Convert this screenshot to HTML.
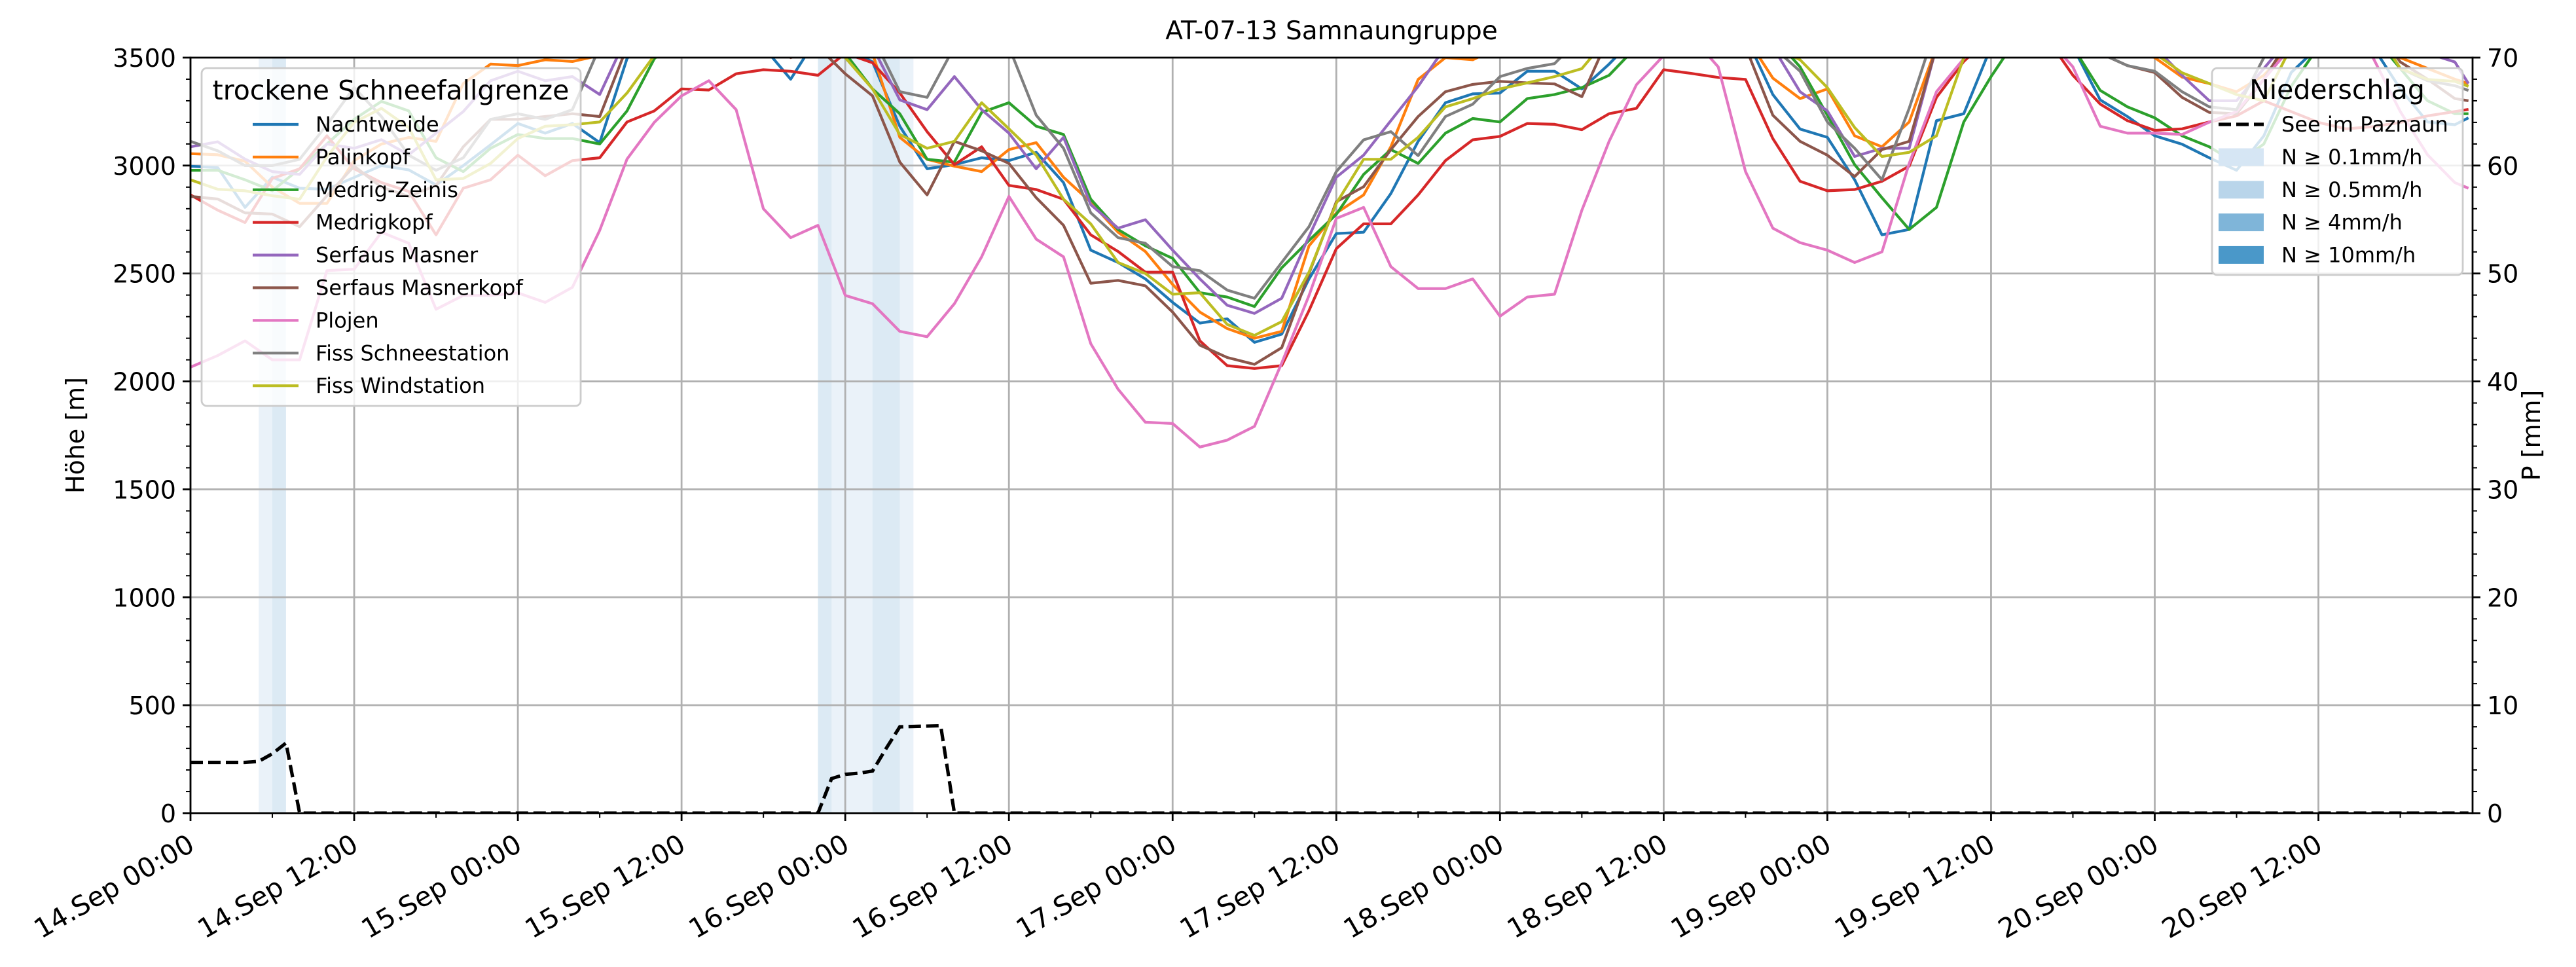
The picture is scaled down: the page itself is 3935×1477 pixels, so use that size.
<!DOCTYPE html>
<html><head><meta charset="utf-8"><style>
html,body{margin:0;padding:0;background:#fff;}
svg{display:block;font-family:"DejaVu Sans","Liberation Sans",sans-serif;}
</style></head><body>
<svg id="chart" xmlns="http://www.w3.org/2000/svg" width="3935" height="1477" viewBox="0 0 3935 1477">
<rect x="0" y="0" width="3935" height="1477" fill="#fff"/>
<defs><clipPath id="plotclip"><rect x="291" y="88" width="3486" height="1154"/></clipPath></defs>
<g id="bands" clip-path="url(#plotclip)"></g>
<g id="grid"></g>
<g id="lines" clip-path="url(#plotclip)"></g>
<g id="axes"></g>
<g id="legendL"></g>
<g id="lake" clip-path="url(#plotclip)"></g>
<g id="legendR"></g>
<text x="2034" y="60" text-anchor="middle" font-size="39">AT-07-13 Samnaungruppe</text>
<text transform="translate(128,665) rotate(-90)" text-anchor="middle" font-size="38">Höhe [m]</text>
<text transform="translate(3880,665) rotate(-90)" text-anchor="middle" font-size="38">P [mm]</text>
</svg>
<script>
const hours = [0,2,4,6,8,10,12,14,16,18,20,22,24,26,28,30,32,34,36,38,40,42,44,46,48,50,52,54,56,58,60,62,64,66,68,70,72,74,76,78,80,82,84,86,88,90,92,94,96,98,100,102,104,106,108,110,112,114,116,118,120,122,124,126,128,130,132,134,136,138,140,142,144,146,148,150,152,154,156,158,160,162,164,166,167];
const seriesNames = ["Nachtweide","Palinkopf","Medrig-Zeinis","Medrigkopf","Serfaus Masner","Serfaus Masnerkopf","Plojen","Fiss Schneestation","Fiss Windstation"];
const nachtweide = [2997,2990,2806,2946,2895,2890,2945,3000,2980,2910, 3000,3096,3195,3150,3195,3106,3495,3650,3650,3600, 3600,3550,3400,3600,3550,3480,3182,2985,3004,3036, 3023,3061,2921,2608,2551,2475,2366,2270,2290,2181, 2219,2475,2685,2691,2870,3112,3291,3332,3336,3437, 3437,3355,3470,3600,3650,3650,3650,3600,3329,3169, 3131,2934,2679,2704,3208,3240,3550,3650,3650,3550, 3304,3227,3138,3099,3036,2978,3138,3431,3550,3600, 3550,3355,3202,3189,3221];
const palinkopf = [3055,3050,3020,2900,2825,2825,3023,3100,3130,3112, 3380,3470,3463,3490,3482,3510,3600,3650,3650,3650, 3650,3600,3600,3600,3600,3520,3131,3029,2997,2972, 3074,3106,2946,2830,2691,2602,2449,2321,2245,2200, 2232,2628,2780,2864,3087,3399,3500,3490,3550,3600, 3650,3650,3650,3650,3650,3650,3650,3600,3405,3310, 3355,3138,3087,3202,3550,3650,3650,3650,3650,3650, 3600,3550,3500,3410,3380,3342,3418,3550,3650,3650, 3600,3500,3450,3400,3380];
const medrigZeinis = [2978,2978,2934,2883,2985,3100,3214,3297,3253,3036, 2972,3080,3144,3125,3125,3100,3253,3495,3600,3650, 3650,3600,3550,3550,3520,3355,3240,3029,3016,3246, 3291,3182,3144,2844,2704,2628,2570,2411,2391,2347, 2526,2653,2774,2959,3074,3010,3150,3218,3202,3310, 3329,3361,3418,3550,3650,3650,3650,3650,3600,3457, 3233,3004,2851,2704,2806,3202,3412,3600,3650,3550, 3348,3272,3221,3138,3087,3010,3100,3367,3550,3600, 3600,3450,3300,3240,3240];
const medrigkopf = [2864,2793,2736,2940,2985,3138,2985,2921,2880,2679, 2895,2934,3048,2953,3023,3036,3202,3253,3355,3350, 3425,3444,3437,3418,3520,3476,3336,3157,3004,3087, 2908,2889,2844,2679,2602,2506,2506,2188,2073,2060, 2073,2328,2615,2730,2730,2864,3023,3119,3135,3195, 3191,3166,3240,3265,3444,3427,3408,3399,3125,2927, 2883,2889,2927,2997,3316,3482,3600,3650,3600,3418, 3285,3208,3163,3170,3202,3230,3300,3250,3200,3170, 3180,3200,3230,3250,3260];
const serfausMasner = [3087,3110,3030,2972,2959,3100,3080,3120,3050,3150, 3250,3393,3437,3393,3412,3329,3600,3650,3650,3650, 3650,3650,3600,3600,3600,3550,3304,3259,3412,3259, 3150,2985,3131,2819,2710,2749,2608,2475,2353,2315, 2385,2672,2946,3048,3208,3367,3550,3650,3650,3650, 3650,3650,3650,3650,3650,3650,3650,3650,3550,3342, 3253,3042,3080,3080,3550,3650,3650,3650,3650,3650, 3650,3650,3550,3418,3300,3300,3450,3600,3650,3650, 3650,3550,3520,3480,3380];
const serfausMasnerkopf = [2857,2845,2781,2775,2717,2860,2997,2900,2857,2908, 3087,3214,3214,3227,3240,3227,3550,3650,3650,3650, 3650,3650,3500,3550,3425,3323,3016,2864,3112,3068, 3010,2851,2723,2455,2468,2443,2321,2168,2111,2079, 2156,2500,2832,2902,3074,3227,3342,3376,3390,3383, 3378,3319,3600,3650,3650,3650,3650,3550,3233,3112, 3048,2949,3074,3112,3550,3650,3650,3650,3650,3650, 3520,3463,3431,3316,3246,3240,3400,3600,3650,3650, 3650,3480,3400,3310,3300];
const plojen = [2066,2120,2188,2100,2100,2513,2520,2691,2640,2334, 2398,2398,2410,2366,2436,2700,3030,3200,3323,3393, 3259,2800,2666,2723,2398,2360,2232,2207,2360,2577, 2857,2659,2577,2175,1964,1811,1805,1696,1728,1792, 2085,2398,2755,2806,2532,2430,2430,2475,2302,2391, 2404,2793,3112,3374,3510,3600,3457,2972,2710,2643, 2608,2551,2600,3010,3342,3495,3600,3650,3600,3457, 3182,3150,3150,3144,3201,3250,3400,3550,3600,3600, 3500,3250,3050,2921,2895];
const fissSchneestation = [3112,3068,3000,3000,3029,3189,3361,3227,3048,2978, 3036,3214,3240,3214,3259,3550,3650,3650,3650,3650, 3650,3650,3650,3650,3650,3600,3342,3316,3550,3650, 3550,3233,3080,2781,2666,2640,2532,2513,2423,2385, 2551,2717,2972,3119,3157,3046,3227,3284,3412,3450, 3472,3600,3650,3650,3650,3650,3650,3650,3550,3437, 3202,3080,2934,3265,3650,3650,3650,3650,3650,3650, 3520,3463,3437,3342,3272,3259,3500,3650,3650,3650, 3650,3450,3393,3370,3348];
const fissWindstation = [2934,2890,2883,2860,2844,3040,3200,3265,3176,2934, 2940,3010,3125,3182,3189,3202,3336,3510,3650,3650, 3650,3650,3650,3600,3500,3355,3144,3080,3112,3291, 3170,3048,2844,2730,2551,2500,2404,2411,2264,2213, 2277,2506,2825,3029,3029,3131,3272,3310,3355,3383, 3412,3449,3600,3650,3650,3650,3650,3650,3550,3490, 3361,3176,3042,3061,3138,3500,3650,3650,3650,3650, 3650,3650,3520,3430,3380,3329,3300,3550,3650,3650, 3650,3450,3399,3390,3367];
const lakeHours = [0,4,5,6,7,8,46,47,48,49,50,51,52,55,56,167];
const lakeMM = [4.7,4.7,4.8,5.5,6.5,0,0,3.2,3.6,3.7,3.9,6.0,8.0,8.1,0,0];
const bandStart = [5,6,46,47,50,52];
const bandEnd = [6,7,47,50,52,53];
const bandClass = [0,1,1,0,1,0];
const yTicks = [0,500,1000,1500,2000,2500,3000,3500];
const y2Ticks = [0,10,20,30,40,50,60,70];
const xTickHours = [0,12,24,36,48,60,72,84,96,108,120,132,144,156];
const xTickLabels = ["14.Sep 00:00","14.Sep 12:00","15.Sep 00:00","15.Sep 12:00","16.Sep 00:00","16.Sep 12:00","17.Sep 00:00","17.Sep 12:00","18.Sep 00:00","18.Sep 12:00","19.Sep 00:00","19.Sep 12:00","20.Sep 00:00","20.Sep 12:00"];
const rainLabels = ["N ≥ 0.1mm/h","N ≥ 0.5mm/h","N ≥ 4mm/h","N ≥ 10mm/h"];

const allSeries = [nachtweide,palinkopf,medrigZeinis,medrigkopf,serfausMasner,serfausMasnerkopf,plojen,fissSchneestation,fissWindstation];
const colors = ["#1f77b4","#ff7f0e","#2ca02c","#d62728","#9467bd","#8c564b","#e377c2","#7f7f7f","#bcbd22"];
const rainColors = ["#d6e6f4","#b9d5ea","#7fb5d9","#4a98c9"];
const L=291,R=3777,T=88,B=1242,XMAX=167.3;
const NS="http://www.w3.org/2000/svg";
function xS(h){return L+h*(R-L)/XMAX;}
function yL(v){return B-v*(B-T)/3500;}
function yR(m){return B-m*(B-T)/70;}
function mk(tag,attrs,parent){const e=document.createElementNS(NS,tag);for(const k in attrs)e.setAttribute(k,attrs[k]);parent.appendChild(e);return e;}
const gB=document.getElementById('bands'),gG=document.getElementById('grid'),gLn=document.getElementById('lines'),gA=document.getElementById('axes'),gLL=document.getElementById('legendL'),gLake=document.getElementById('lake'),gLR=document.getElementById('legendR');

for(let i=0;i<bandStart.length;i++){
  const r=mk('rect',{x:xS(bandStart[i]),y:T,width:xS(bandEnd[i])-xS(bandStart[i]),height:B-T,fill:rainColors[bandClass[i]],opacity:0.5},gB);
  
  
}
xTickHours.forEach(h=>{
  const l=mk('line',{x1:xS(h),x2:xS(h),y1:T,y2:B,stroke:'#b0b0b0','stroke-width':2.8},gG);
  
  
});
yTicks.forEach(v=>{
  const l=mk('line',{x1:L,x2:R,y1:yL(v),y2:yL(v),stroke:'#b0b0b0','stroke-width':2.8},gG);
  
  
});
allSeries.forEach((s,i)=>{
  const pts=s.map((v,j)=>xS(hours[j]).toFixed(1)+','+yL(v).toFixed(1)).join(' ');
  const p=mk('polyline',{points:pts,fill:'none',stroke:colors[i],'stroke-width':4.2,'stroke-linejoin':'round'},gLn);
  
  
});
[[L,T,L,B],[R,T,R,B],[L,T,R,T],[L,B,R,B]].forEach(c=>{
  const l=mk('line',{x1:c[0],y1:c[1],x2:c[2],y2:c[3],stroke:'#000','stroke-width':2.8,'stroke-linecap':'square'},gA);
  
  
});
for(let v=0;v<=3500;v+=100){
  const major=v%500===0;
  const l=mk('line',{x1:L-(major?12:7),x2:L,y1:yL(v),y2:yL(v),stroke:'#000','stroke-width':major?2.8:2},gA);
  
  
}
yTicks.forEach(v=>{
  const t=mk('text',{x:L-22,y:yL(v)+14,'text-anchor':'end','font-size':38},gA);
  t.textContent=v;
  
  
});
for(let m=0;m<=70;m+=2){
  const major=m%10===0;
  const l=mk('line',{x1:R,x2:R+(major?12:7),y1:yR(m),y2:yR(m),stroke:'#000','stroke-width':major?2.8:2},gA);
  
  
}
y2Ticks.forEach(m=>{
  const t=mk('text',{x:R+22,y:yR(m)+14,'text-anchor':'start','font-size':38},gA);
  t.textContent=m;
  
  
});
for(let h=0;h<=XMAX;h+=6){
  const major=h%12===0;
  const l=mk('line',{x1:xS(h),x2:xS(h),y1:B,y2:B+(major?12:7),stroke:'#000','stroke-width':major?2.8:2},gA);
  
  
}
xTickHours.forEach((h,i)=>{
  const t=mk('text',{transform:'translate('+(xS(h)-6)+','+(B+30)+') rotate(-30)','text-anchor':'end','font-size':41,dy:'0.72em'},gA);
  t.textContent=xTickLabels[i];
  
  
});
{
  const box=mk('rect',{x:308,y:104,width:579,height:516,rx:8,fill:'#fff','fill-opacity':0.8,stroke:'#cccccc','stroke-width':2.8},gLL);
  
  
  const tt=mk('text',{x:597,y:152,'text-anchor':'middle','font-size':41},gLL);
  tt.textContent='trockene Schneefallgrenze';
  
  
  seriesNames.forEach((n,i)=>{
    const y=190+i*49.9;
    const l=mk('line',{x1:386,x2:456,y1:y,y2:y,stroke:colors[i],'stroke-width':4.2},gLL);
    
    
    const t=mk('text',{x:482,y:y+11,'font-size':32},gLL);
    t.textContent=n;
    
    
  });
}
{
  const pts=lakeMM.map((m,j)=>xS(lakeHours[j]).toFixed(1)+','+yR(m).toFixed(1)).join(' ');
  const p=mk('polyline',{points:pts,fill:'none',stroke:'#000','stroke-width':5.2,'stroke-dasharray':'19 8'},gLake);
  
  
}
{
  const box=mk('rect',{x:3379,y:104,width:383,height:316,rx:8,fill:'#fff','fill-opacity':0.8,stroke:'#cccccc','stroke-width':2.8},gLR);
  
  
  const tt=mk('text',{x:3570,y:151,'text-anchor':'middle','font-size':41},gLR);
  tt.textContent='Niederschlag';
  
  
  const dl=mk('line',{x1:3389,x2:3458,y1:190,y2:190,stroke:'#000','stroke-width':5.2,'stroke-dasharray':'19 8'},gLR);
  
  
  const t0=mk('text',{x:3485,y:201,'font-size':32},gLR);
  t0.textContent='See im Paznaun';
  
  
  rainLabels.forEach((lab,i)=>{
    const y=240+i*49.8;
    const r=mk('rect',{x:3389,y:y-13.5,width:69,height:27,fill:rainColors[i]},gLR);
    
    
    const t=mk('text',{x:3485,y:y+11,'font-size':32},gLR);
    t.textContent=lab;
    
    
  });
}
</script>
</body></html>
